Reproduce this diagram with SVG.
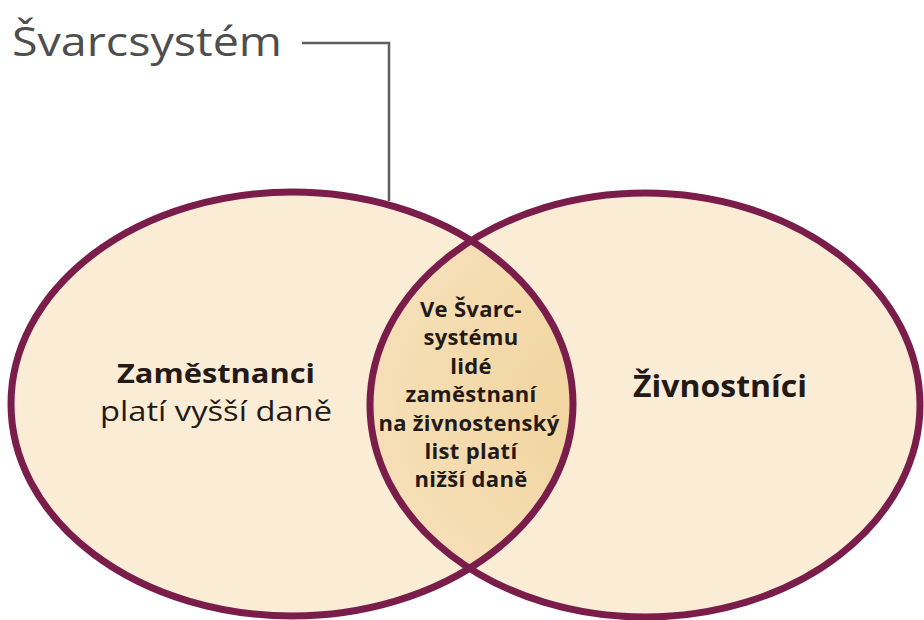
<svg xmlns="http://www.w3.org/2000/svg" width="924" height="620" viewBox="0 0 924 620">
<style>
.set{fill:#fbecd6;stroke:none}
.ring{fill:none;stroke:#7a1d4b;stroke-width:7}
.t{font-family:"Open Sans","Noto Sans","DejaVu Sans",sans-serif;fill:#231a17;text-anchor:middle}
.b{font-weight:bold}
.mid{font-family:"Open Sans","Noto Sans",sans-serif;font-weight:bold;font-size:22px;fill:#231a17;text-anchor:middle;letter-spacing:0.3px}
.lead{fill:none;stroke:#5e5e5e;stroke-width:2.5}
</style>
<defs>
<clipPath id="clipL"><ellipse cx="292" cy="404" rx="281" ry="212"/></clipPath>
<radialGradient id="gmid" cx="0.5" cy="0.5" r="0.6">
<stop offset="0" stop-color="#f0d198"/>
<stop offset="1" stop-color="#f7e2bd"/>
</radialGradient>
</defs>
<rect width="924" height="620" fill="#ffffff"/>
<g id="zamestnanci">
<ellipse class="set" cx="292" cy="404" rx="281" ry="212"/>
</g>
<g id="zivnostnici">
<ellipse class="set" cx="645" cy="405" rx="275" ry="212"/>
</g>
<g id="svarcsystem-overlap">
<ellipse cx="645" cy="405" rx="275" ry="212" fill="url(#gmid)" clip-path="url(#clipL)"/>
</g>
<g id="rings">
<ellipse class="ring" cx="292" cy="404" rx="281" ry="212"/>
<ellipse class="ring" cx="645" cy="405" rx="275" ry="212"/>
</g>
<g id="connectors">
<polyline class="lead" points="302,43 389,43 389,201"/>
</g>
<g id="label-svarcsystem">
<text x="12" y="56" font-family="Open Sans, Noto Sans, sans-serif" font-size="41" fill="#4e4e4e" textLength="270" lengthAdjust="spacingAndGlyphs">Švarcsystém</text>
</g>
<g id="text-zamestnanci">
<text class="t b" x="216" y="383" font-size="27" textLength="198" lengthAdjust="spacingAndGlyphs">Zaměstnanci</text>
<text class="t" x="216" y="421" font-size="27" textLength="232" lengthAdjust="spacingAndGlyphs">platí vyšší daně</text>
</g>
<g id="text-zivnostnici">
<text class="t b" x="720" y="397" font-size="30" textLength="174" lengthAdjust="spacingAndGlyphs">Živnostníci</text>
</g>
<g id="text-overlap">
<text class="mid" x="471" y="317">Ve Švarc-</text>
<text class="mid" x="471" y="345">systému</text>
<text class="mid" x="471" y="374">lidé</text>
<text class="mid" x="471" y="402">zaměstnaní</text>
<text class="mid" x="469" y="431">na živnostenský</text>
<text class="mid" x="471" y="459">list platí</text>
<text class="mid" x="471" y="487">nižší daně</text>
</g>
</svg>
